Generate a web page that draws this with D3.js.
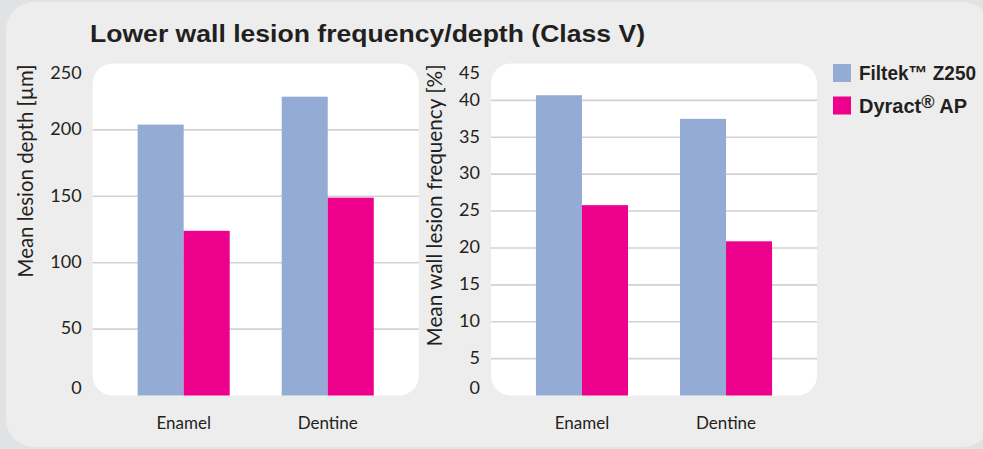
<!DOCTYPE html>
<html>
<head>
<meta charset="utf-8">
<script src="https://cdn.jsdelivr.net/npm/d3@7"></script>
<style>
body { margin: 0; background: #e1e2e4; }
svg { display: block; }
</style>
</head>
<body>
<svg id="chart" width="983" height="449"></svg>
<script>
// data
var categories = ["Enamel", "Dentine"];
var seriesNames = ["Filtek\u2122 Z250", "Dyract\u00AE AP"];
var seriesColors = ["#94acd5", "#ec008c"];
var depthFiltek = [204, 225];
var depthDyract = [124, 149];
var freqFiltek = [40.7, 37.5];
var freqDyract = [25.8, 20.9];
var depthTicks = [0, 50, 100, 150, 200, 250];
var freqTicks = [0, 5, 10, 15, 20, 25, 30, 35, 40, 45];

var svg = d3.select("#chart");
var W = 983, H = 449;

// background panel
svg.append("rect").attr("width", W).attr("height", H).attr("fill", "#e1e2e4");
svg.append("rect")
    .attr("x", 6).attr("y", 2)
    .attr("width", 985).attr("height", 445)
    .attr("rx", 28).attr("ry", 28)
    .attr("fill", "#ededed");

svg.append("text")
    .attr("x", 90).attr("y", 41.5)
    .attr("font-family", "Liberation Sans, Arial, sans-serif")
    .attr("font-weight", "bold")
    .attr("font-size", 24)
    .attr("fill", "#231f20")
    .attr("textLength", 555)
    .attr("lengthAdjust", "spacingAndGlyphs")
    .text("Lower wall lesion frequency/depth (Class V)");

var plotTop = 63.5, plotBottom = 395.5, plotW = 326;
var tickFont = "Lato, 'Open Sans', sans-serif";

function drawChart(left, ticks, maxVal, valsA, valsB, yTitle, titleX, titleLen) {
    var g = svg.append("g");
    var y = d3.scaleLinear().domain([0, maxVal]).range([plotBottom, plotTop]);
    var x0 = d3.scaleBand().domain(categories)
        .range([left + 19, left + 307])
        .paddingInner(0.361).paddingOuter(0.18);
    var x1 = d3.scaleBand().domain([0, 1]).range([0, x0.bandwidth()]);

    // white plot box, rounded
    g.append("rect")
        .attr("x", left).attr("y", plotTop)
        .attr("width", plotW).attr("height", plotBottom - plotTop)
        .attr("rx", 20).attr("ry", 20)
        .attr("fill", "#ffffff");

    // gridlines on inner ticks
    g.selectAll(".grid")
        .data(ticks.filter(function (t) { return t > 0 && t < maxVal; }))
        .enter()
        .append("line")
        .attr("x1", left).attr("x2", left + plotW)
        .attr("y1", function (d) { return y(d); })
        .attr("y2", function (d) { return y(d); })
        .attr("stroke", "#d2d2d2")
        .attr("stroke-width", 1.6);

    // bars
    var rows = categories.map(function (c, i) { return { cat: c, vals: [valsA[i], valsB[i]] }; });
    var grp = g.selectAll(".grp").data(rows).enter().append("g")
        .attr("transform", function (d) { return "translate(" + x0(d.cat) + ",0)"; });
    grp.selectAll("rect")
        .data(function (d) { return d.vals; })
        .enter()
        .append("rect")
        .attr("x", function (d, i) { return x1(i); })
        .attr("y", function (d) { return y(d); })
        .attr("width", x1.bandwidth())
        .attr("height", function (d) { return plotBottom - y(d); })
        .attr("fill", function (d, i) { return seriesColors[i]; });

    // y tick labels
    g.selectAll(".tick")
        .data(ticks)
        .enter()
        .append("text")
        .attr("x", left - 11)
        .attr("y", function (d) {
            var v = y(d) - 1;
            if (d === 0) v = y(d) - 7.5;
            if (d === maxVal) v = y(d) + 9.5;
            return v;
        })
        .attr("dy", "0.35em")
        .attr("text-anchor", "end")
        .attr("font-family", tickFont)
        .attr("font-size", 18)
        .attr("fill", "#231f20")
        .text(function (d) { return d; });

    // x labels
    g.selectAll(".xl")
        .data(categories)
        .enter()
        .append("text")
        .attr("x", function (d) { return x0(d) + x0.bandwidth() / 2; })
        .attr("y", 429)
        .attr("text-anchor", "middle")
        .attr("font-family", tickFont)
        .attr("font-size", 17)
        .attr("fill", "#231f20")
        .text(function (d) { return d; });

    // y title
    g.append("text")
        .attr("transform", "translate(" + titleX + "," + (plotTop + 1) + ") rotate(-90)")
        .attr("text-anchor", "end")
        .attr("font-family", tickFont)
        .attr("font-size", 20.5)
        .attr("fill", "#231f20")
        .attr("textLength", titleLen)
        .attr("lengthAdjust", "spacingAndGlyphs")
        .text(yTitle);
}

drawChart(92.7, depthTicks, 250, depthFiltek, depthDyract, "Mean lesion depth [\u00B5m]", 33, 213);
drawChart(491, freqTicks, 45, freqFiltek, freqDyract, "Mean wall lesion frequency [%]", 442, 282);

// legend
var legend = svg.append("g").attr("transform", "translate(833,64)");
var items = legend.selectAll("g").data(seriesNames).enter().append("g")
    .attr("transform", function (d, i) { return "translate(0," + (i * 32.5) + ")"; });
items.append("rect")
    .attr("width", 18).attr("height", 18)
    .attr("fill", function (d, i) { return seriesColors[i]; });
var lt = items.append("text")
    .attr("x", 26).attr("y", 16)
    .attr("font-family", "Liberation Sans, Arial, sans-serif")
    .attr("font-weight", "bold")
    .attr("font-size", 20)
    .attr("fill", "#231f20");
lt.filter(function (d, i) { return i === 0; })
    .attr("textLength", 117)
    .attr("lengthAdjust", "spacingAndGlyphs")
    .text(function (d) { return d; });
var dy = lt.filter(function (d, i) { return i === 1; });
dy.append("tspan").text("Dyract");
dy.append("tspan").attr("dy", -5).attr("font-size", 18).text("\u00AE");
dy.append("tspan").attr("dy", 5).text(" AP");
</script>
</body>
</html>
